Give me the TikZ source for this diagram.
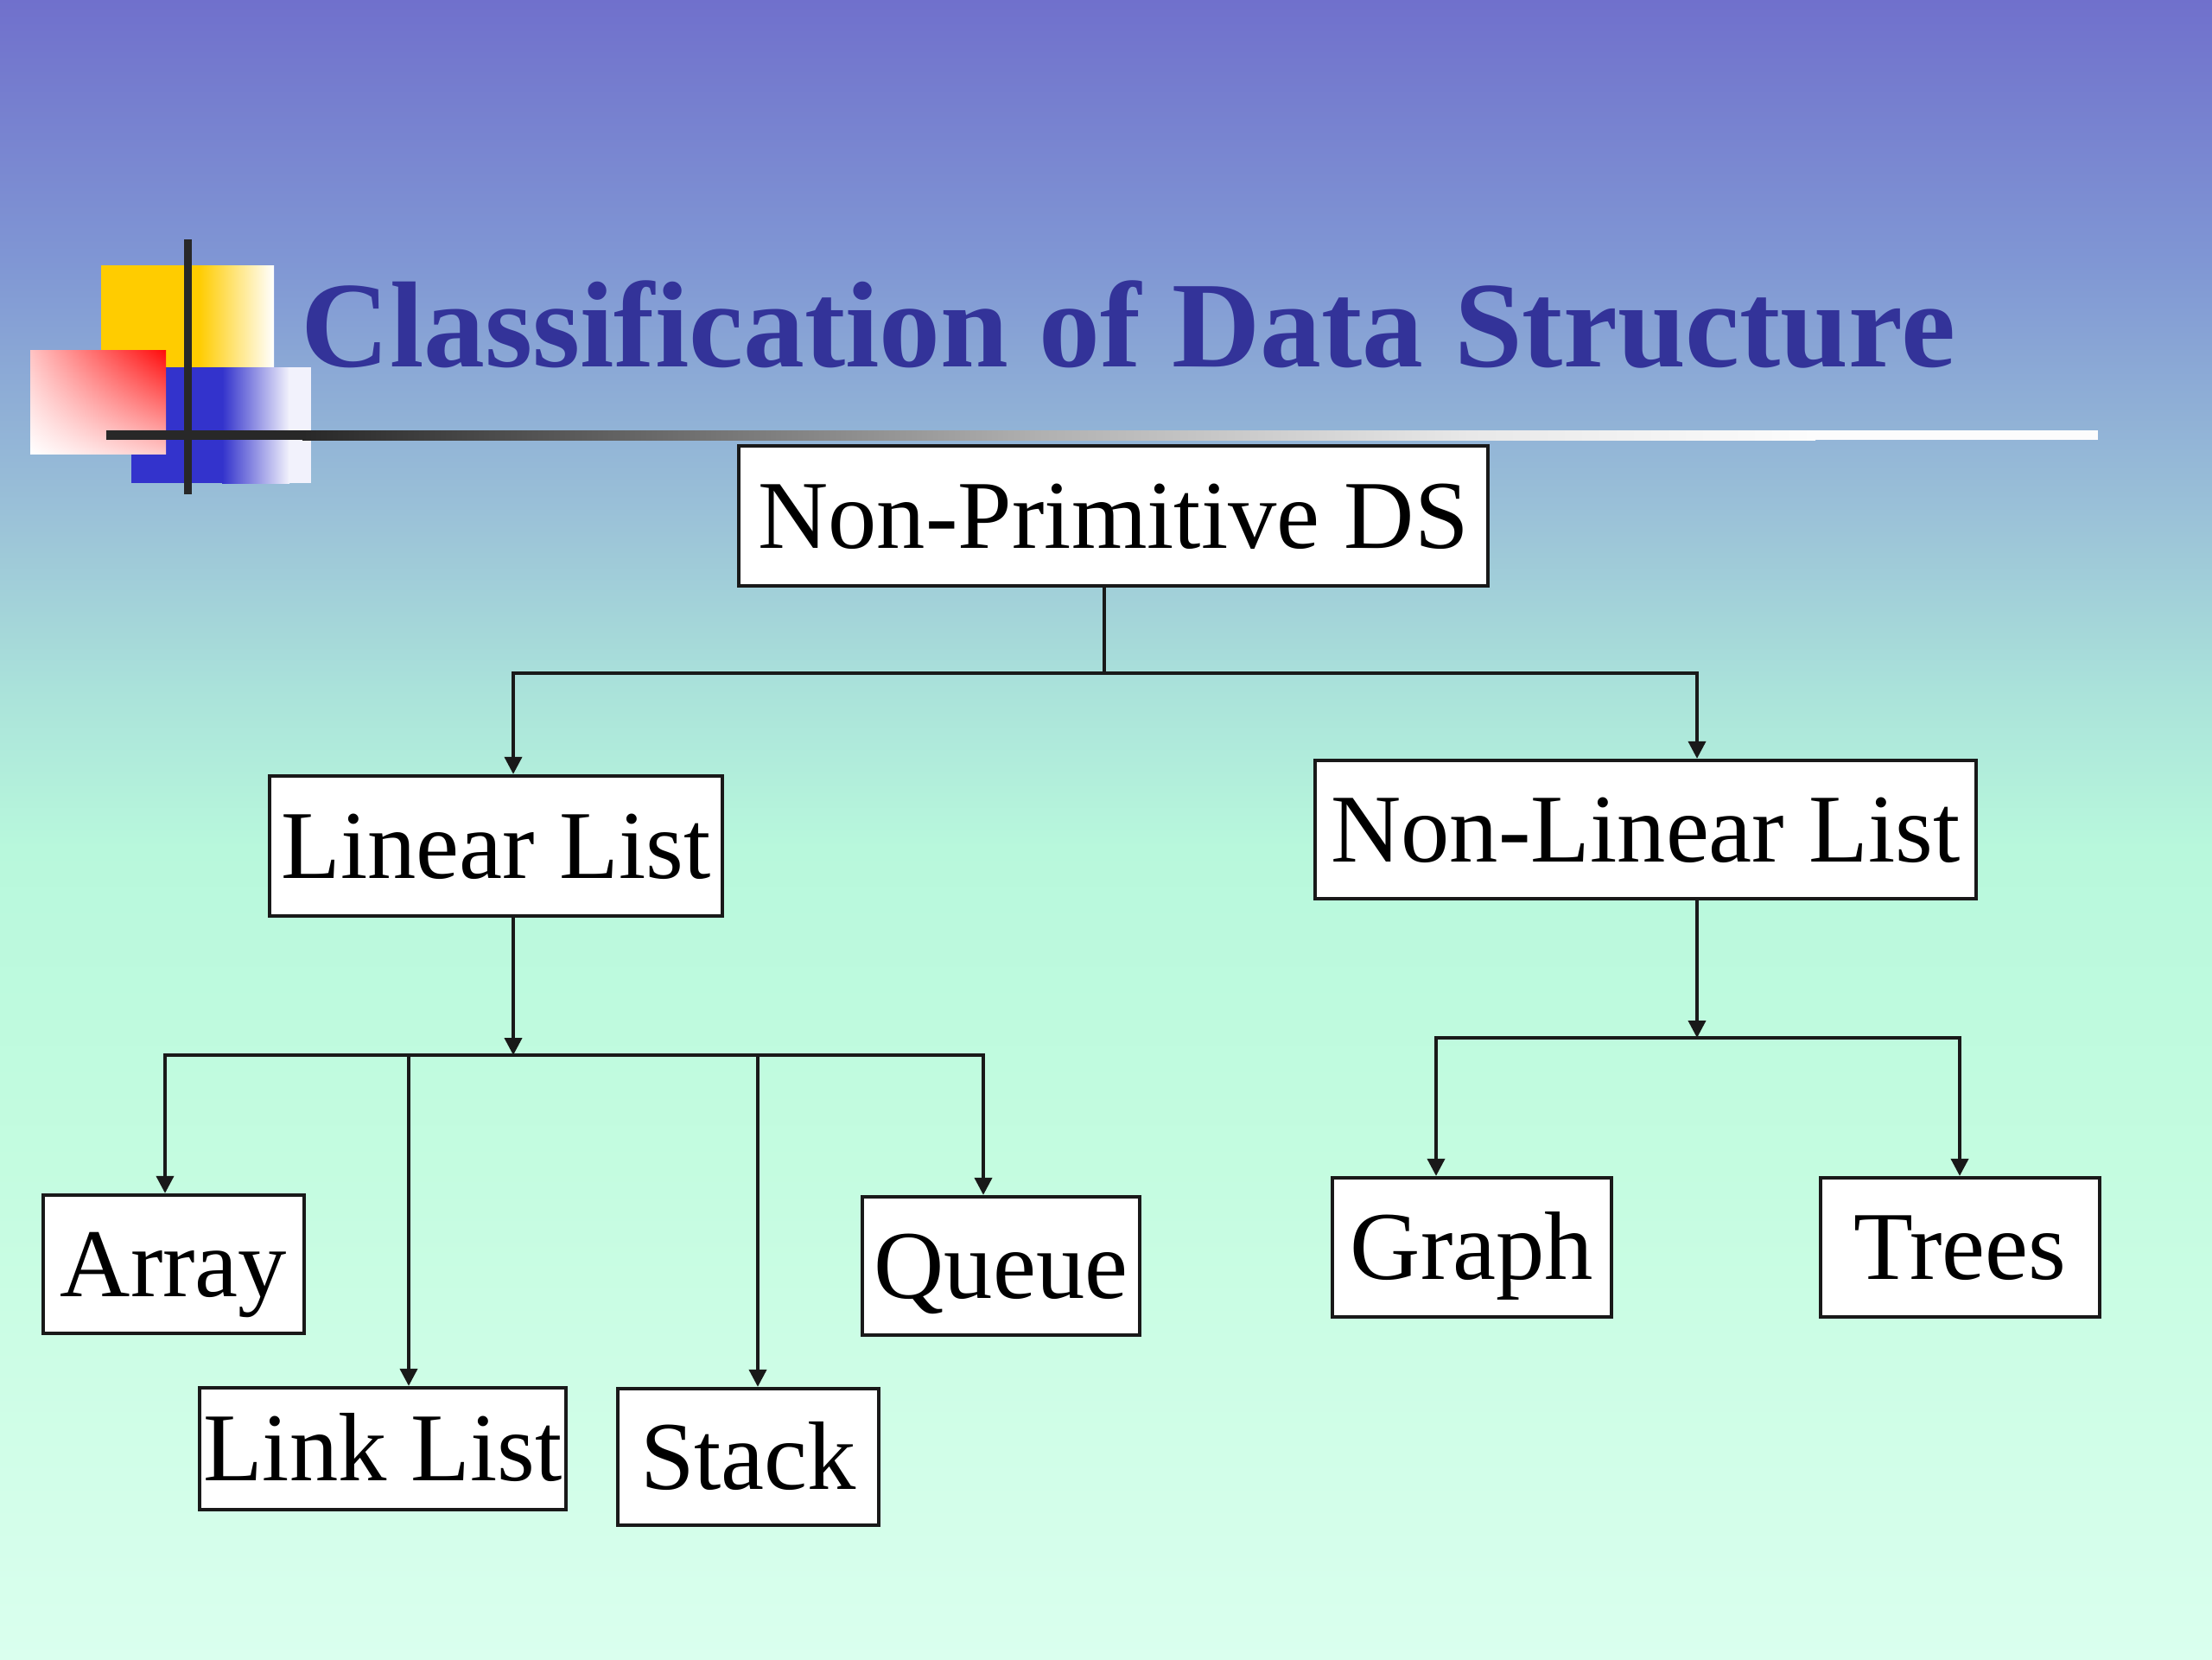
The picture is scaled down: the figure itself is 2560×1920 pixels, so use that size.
\documentclass[tikz,border=0pt]{standalone}
\usepackage{fontspec}
\setmainfont{Liberation Serif}
\usetikzlibrary{arrows.meta,shadings}
\definecolor{bgA}{RGB}{112,112,204}
\definecolor{bgB}{RGB}{128,151,212}
\definecolor{bgC}{RGB}{156,196,216}
\definecolor{bgD}{RGB}{170,226,218}
\definecolor{bgE}{RGB}{184,248,220}
\definecolor{bgF}{RGB}{196,252,224}
\definecolor{bgG}{RGB}{218,255,238}
\definecolor{titleblue}{RGB}{51,51,153}
\definecolor{lineDark}{RGB}{40,40,40}
\definecolor{lineG1}{RGB}{176,176,176}
\definecolor{lineG2}{RGB}{232,232,232}
\definecolor{lineG3}{RGB}{252,252,252}
\definecolor{boxline}{RGB}{25,25,25}
\definecolor{ylw}{RGB}{255,204,0}
\definecolor{blu}{RGB}{51,51,204}
\definecolor{bluEnd}{RGB}{242,242,252}
\definecolor{redUL}{RGB}{255,195,195}
\definecolor{redLR}{RGB}{255,200,200}
\definecolor{redUR}{RGB}{255,10,10}
\begin{document}
\begin{tikzpicture}[x=0.01cm,y=-0.01cm,
  box/.style={draw=boxline, line width=1.2pt, fill=white, inner sep=0pt,
    text height=0.748cm, text depth=0pt, font=\fontsize{32}{38}\selectfont},
  conn/.style={line width=1.1pt, draw=boxline, line cap=rect},
  arr/.style={line width=1.1pt, draw=boxline, -{Triangle[length=0.2cm,width=0.2cm]}}]
\useasboundingbox (0,0) rectangle (2560,1920);
% background
\shade[top color=bgA, bottom color=bgB] (0,0) rectangle (2560,307);
\shade[top color=bgB, bottom color=bgC] (0,306) rectangle (2560,613);
\shade[top color=bgC, bottom color=bgD] (0,612) rectangle (2560,797);
\shade[top color=bgD, bottom color=bgE] (0,796) rectangle (2560,981);
\shade[top color=bgE, bottom color=bgF] (0,980) rectangle (2560,1348);
\shade[top color=bgF, bottom color=bgG] (0,1347) rectangle (2560,1920);
% logo
\fill[ylw] (117,307) rectangle (231,425);
\shade[left color=ylw, right color=white] (230,307) rectangle (317,425);
\fill[blu] (152,425) rectangle (258,559);
\shade[left color=blu, right color=bluEnd] (257,425) rectangle (335,559);
\fill[bluEnd] (334,425) rectangle (360,559);
\shade[upper left=redUL, upper right=redUR, lower left=white, lower right=redLR] (35,405) rectangle (192,525);
\fill[lineDark] (213,277) rectangle (222,572);
\fill[lineDark] (123,498) rectangle (351,509);
\shade[left color=lineDark, right color=lineG1] (350,498) rectangle (1201,509);
\shade[left color=lineG1, right color=lineG2] (1200,498) rectangle (1701,509);
\shade[left color=lineG2, right color=lineG3] (1700,498) rectangle (2101,509);
\fill[lineG3] (2100,498) rectangle (2428,509);
% title
\node[anchor=base west, inner sep=0pt, text=titleblue,
  font=\fontsize{40.3}{48}\selectfont\bfseries] (title) at (348,424) {Classification of Data Structure};
% nodes
\node[box, minimum width=8.67cm, minimum height=1.62cm] (np) at (1288.5,597) {Non-Primitive DS};
\node[box, minimum width=5.24cm, minimum height=1.62cm] (ll) at (574,979) {Linear List};
\node[box, minimum width=7.65cm, minimum height=1.60cm] (nl) at (1904.5,960) {Non-Linear List};
\node[box, minimum width=3.02cm, minimum height=1.60cm] (array) at (201,1463) {Array};
\node[box, minimum width=3.21cm, minimum height=1.60cm] (queue) at (1158.5,1465) {Queue};
\node[box, minimum width=4.24cm, minimum height=1.41cm] (link) at (443,1676.5) {Link List};
\node[box, minimum width=3.02cm, minimum height=1.58cm] (stack) at (866,1686) {Stack};
\node[box, minimum width=3.23cm, minimum height=1.61cm] (graph) at (1703.5,1443.5) {Graph};
\node[box, minimum width=3.23cm, minimum height=1.61cm] (trees) at (2268.5,1443.5) {Trees};
% connectors level 1
\coordinate (j0) at (1278,779);
\coordinate (j0L) at (594,779);
\coordinate (j0R) at (1964,779);
\draw[conn] (j0 |- np.south) -- (j0);
\draw[conn] (j0L) -- (j0R);
\draw[arr] (j0L) -- (j0L |- ll.north);
\draw[arr] (j0R) -- (j0R |- nl.north);
% linear list
\coordinate (j1) at (594,1221);
\coordinate (j1L) at (191,1221);
\coordinate (j1R) at (1138,1221);
\coordinate (j1a) at (473,1221);
\coordinate (j1b) at (877,1221);
\draw[arr] (j1 |- ll.south) -- (j1);
\draw[conn] (j1L) -- (j1R);
\draw[arr] (j1L) -- (j1L |- array.north);
\draw[arr] (j1a) -- (j1a |- link.north);
\draw[arr] (j1b) -- (j1b |- stack.north);
\draw[arr] (j1R) -- (j1R |- queue.north);
% non-linear list
\coordinate (j2) at (1964,1201);
\coordinate (j2L) at (1662,1201);
\coordinate (j2R) at (2268,1201);
\draw[arr] (j2 |- nl.south) -- (j2);
\draw[conn] (j2L) -- (j2R);
\draw[arr] (j2L) -- (j2L |- graph.north);
\draw[arr] (j2R) -- (j2R |- trees.north);
\end{tikzpicture}
\end{document}
